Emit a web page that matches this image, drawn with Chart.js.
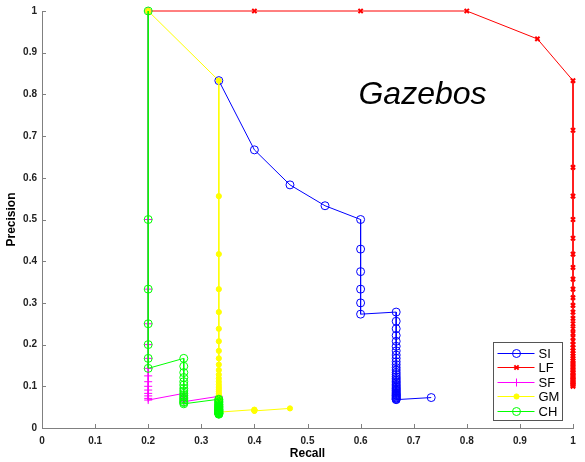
<!DOCTYPE html>
<html>
<head>
<meta charset="utf-8">
<title>Gazebos precision / recall</title>
<script src="https://cdn.jsdelivr.net/npm/chart.js"></script>
<style>
  body { margin: 0; background: #fff; }
  #wrap { width: 585px; height: 462px; }
</style>
</head>
<body>
<div id="wrap"><canvas id="prChart" width="585" height="462"></canvas></div>
<script>
// =================== Data ===================

const tickValues = [0, 0.1, 0.2, 0.3, 0.4, 0.5, 0.6, 0.7, 0.8, 0.9, 1];
const tickLabels = ['0', '0.1', '0.2', '0.3', '0.4', '0.5', '0.6', '0.7', '0.8', '0.9', '1'];
const seriesNames = ['SI', 'LF', 'SF', 'GM', 'CH'];

// SI
const siRecall = [0.333, 0.4, 0.467, 0.533, 0.6, 0.6, 0.6, 0.6, 0.6, 0.6,
  0.667, 0.667, 0.667, 0.667, 0.667, 0.667, 0.667, 0.667, 0.667, 0.667,
  0.667, 0.667, 0.667, 0.667, 0.667, 0.667, 0.667, 0.667, 0.667, 0.667,
  0.667, 0.667, 0.667, 0.667, 0.667, 0.667, 0.667, 0.667, 0.667, 0.667,
  0.667, 0.667, 0.667, 0.667, 0.667, 0.667, 0.667, 0.667,
  0.733];
const siPrecision = [0.833, 0.667, 0.583, 0.533, 0.5, 0.429, 0.375, 0.333, 0.3, 0.273,
  0.278, 0.256, 0.238, 0.222, 0.208, 0.196, 0.185, 0.175, 0.167, 0.159,
  0.152, 0.145, 0.139, 0.133, 0.128, 0.123, 0.119, 0.115, 0.111, 0.108,
  0.104, 0.101, 0.098, 0.095, 0.093, 0.090, 0.088, 0.085, 0.083, 0.081,
  0.079, 0.078, 0.076, 0.074, 0.072, 0.071, 0.069, 0.068,
  0.073];

// LF
const lfRecall = [0.2, 0.4, 0.6, 0.8, 0.933, 1,
  1, 1, 1, 1, 1, 1, 1, 1, 1, 1,
  1, 1, 1, 1, 1, 1, 1, 1, 1, 1,
  1, 1, 1, 1, 1, 1, 1, 1, 1, 1,
  1, 1, 1, 1, 1, 1, 1, 1, 1, 1,
  1, 1, 1, 1];
const lfPrecision = [1, 1, 1, 1, 0.933, 0.833,
  0.714, 0.625, 0.556, 0.5, 0.455, 0.417, 0.385, 0.357, 0.333, 0.3125,
  0.294, 0.278, 0.263, 0.25, 0.238, 0.227, 0.217, 0.208, 0.2, 0.192,
  0.185, 0.179, 0.172, 0.167, 0.161, 0.156, 0.152, 0.147, 0.143, 0.139,
  0.135, 0.132, 0.128, 0.125, 0.122, 0.119, 0.116, 0.114, 0.111, 0.109,
  0.106, 0.104, 0.102, 0.1];

// SF
const sfRecall = [0.2, 0.2, 0.2, 0.2, 0.2, 0.2, 0.2, 0.2, 0.2, 0.2, 0.2, 0.2, 0.2, 0.2, 0.2,
  0.267, 0.267, 0.267, 0.267, 0.267, 0.267,
  0.333, 0.333, 0.333, 0.333, 0.333, 0.333, 0.333, 0.333, 0.333, 0.333,
  0.333, 0.333, 0.333, 0.333, 0.333, 0.333, 0.333, 0.333, 0.333, 0.333,
  0.333, 0.333, 0.333, 0.333, 0.333, 0.333, 0.333, 0.333, 0.333];
const sfPrecision = [1, 0.5, 0.333, 0.25, 0.2, 0.167, 0.143, 0.125, 0.111, 0.1, 0.091, 0.083, 0.077, 0.071, 0.067,
  0.083, 0.078, 0.074, 0.070, 0.067, 0.063,
  0.076, 0.072, 0.069, 0.067, 0.064, 0.062, 0.060, 0.057, 0.056, 0.054,
  0.052, 0.051, 0.049, 0.048, 0.046, 0.045, 0.044, 0.043, 0.042, 0.041,
  0.040, 0.039, 0.038, 0.037, 0.036, 0.035, 0.035, 0.034, 0.033];

// GM
const gmRecall = [0.2, 0.333,
  0.333, 0.333, 0.333, 0.333, 0.333, 0.333, 0.333, 0.333, 0.333, 0.333,
  0.333, 0.333, 0.333, 0.333, 0.333, 0.333, 0.333, 0.333, 0.333, 0.333,
  0.333, 0.333, 0.333, 0.333, 0.333, 0.333, 0.333, 0.333, 0.333, 0.333,
  0.333, 0.333, 0.333, 0.333, 0.333, 0.333, 0.333, 0.333, 0.333, 0.333,
  0.333, 0.333,
  0.4, 0.4, 0.4, 0.4, 0.4,
  0.467];
const gmPrecision = [1, 0.833,
  0.556, 0.417, 0.333, 0.278, 0.238, 0.208, 0.185, 0.167, 0.152, 0.139,
  0.128, 0.119, 0.111, 0.104, 0.098, 0.093, 0.088, 0.083, 0.079, 0.076,
  0.072, 0.069, 0.067, 0.064, 0.062, 0.060, 0.057, 0.056, 0.054, 0.052,
  0.051, 0.049, 0.048, 0.046, 0.045, 0.044, 0.043, 0.042, 0.041, 0.040,
  0.039, 0.038,
  0.044, 0.043, 0.043, 0.042, 0.041,
  0.047];

// CH
const chRecall = [0.2, 0.2, 0.2, 0.2, 0.2, 0.2, 0.2,
  0.267, 0.267, 0.267, 0.267, 0.267, 0.267, 0.267, 0.267, 0.267, 0.267,
  0.267, 0.267, 0.267, 0.267, 0.267, 0.267,
  0.333, 0.333, 0.333, 0.333, 0.333, 0.333, 0.333, 0.333, 0.333, 0.333,
  0.333, 0.333, 0.333, 0.333, 0.333, 0.333, 0.333, 0.333, 0.333, 0.333,
  0.333, 0.333, 0.333, 0.333, 0.333, 0.333, 0.333];
const chPrecision = [1, 0.5, 0.333, 0.25, 0.2, 0.167, 0.143,
  0.167, 0.148, 0.133, 0.121, 0.111, 0.103, 0.095, 0.089, 0.083, 0.078,
  0.074, 0.070, 0.067, 0.063, 0.061, 0.058,
  0.069, 0.067, 0.064, 0.062, 0.060, 0.057, 0.056, 0.054, 0.052, 0.051,
  0.049, 0.048, 0.046, 0.045, 0.044, 0.043, 0.042, 0.041, 0.040, 0.039,
  0.038, 0.037, 0.036, 0.035, 0.035, 0.034, 0.033];

// =================== Helpers ===================

function toPoints(xs, ys) {
  return xs.map((x, i) => ({ x: x, y: ys[i] }));
}

// marker look per series (also used by the legend)
const styles = {
  SI: { color: '#0000ff', pointStyle: 'circle', radius: 4, width: 1, fill: 'rgba(0,0,0,0)' },
  LF: { color: '#ff0000', pointStyle: 'crossRot', radius: 3, width: 2, fill: '#ff0000' },
  SF: { color: '#ff00ff', pointStyle: 'cross', radius: 4, width: 1, fill: '#ff00ff' },
  GM: { color: '#ffff00', pointStyle: 'circle', radius: 2.6, width: 1, fill: '#ffff00' },
  CH: { color: '#00ff00', pointStyle: 'circle', radius: 4, width: 1, fill: 'rgba(0,0,0,0)' }
};

function makeDataset(name, xs, ys, order) {
  const s = styles[name];
  return {
    label: name,
    data: toPoints(xs, ys),
    showLine: true,
    borderColor: s.color,
    borderWidth: 1,
    backgroundColor: s.fill,
    pointStyle: s.pointStyle,
    pointRadius: s.radius,
    pointBorderColor: s.color,
    pointBackgroundColor: s.fill,
    pointBorderWidth: s.width,
    clip: false,
    order: order
  };
}

function tickText(value) {
  const i = tickValues.findIndex(v => Math.abs(v - value) < 1e-6);
  return i >= 0 ? tickLabels[i] : '';
}

// =================== Plugins ===================

// MATLAB-style inward tick marks
const inwardTicks = {
  id: 'inwardTicks',
  afterDraw(chart) {
    const { ctx, chartArea, scales } = chart;
    ctx.save();
    ctx.strokeStyle = '#808080';
    ctx.lineWidth = 1;
    ctx.beginPath();
    tickValues.forEach(v => {
      const px = Math.round(scales.x.getPixelForValue(v)) + 0.5;
      ctx.moveTo(px, chartArea.bottom);
      ctx.lineTo(px, chartArea.bottom - 4);
      const py = Math.round(scales.y.getPixelForValue(v)) + 0.5;
      ctx.moveTo(chartArea.left, py);
      ctx.lineTo(chartArea.left + 4, py);
    });
    ctx.stroke();
    ctx.restore();
  }
};

// big italic label inside the plot
const plotLabel = {
  id: 'plotLabel',
  afterDraw(chart) {
    const { ctx, scales } = chart;
    ctx.save();
    ctx.font = 'italic 32px "Liberation Sans", Arial, sans-serif';
    ctx.fillStyle = '#000';
    ctx.textBaseline = 'alphabetic';
    ctx.fillText('Gazebos', scales.x.getPixelForValue(0.596), scales.y.getPixelForValue(0.777));
    ctx.restore();
  }
};

// boxed legend at lower right of the plot
const boxLegend = {
  id: 'boxLegend',
  afterDraw(chart) {
    const { ctx, chartArea } = chart;
    const w = 69, h = 78;
    const x0 = Math.round(chartArea.right - 11 - w) + 0.5;
    const y0 = Math.round(chartArea.bottom - 8 - h) + 0.5;
    ctx.save();
    ctx.fillStyle = '#fff';
    ctx.fillRect(x0, y0, w, h);
    ctx.strokeStyle = '#555';
    ctx.lineWidth = 1;
    ctx.strokeRect(x0, y0, w, h);
    ctx.font = '13px "Liberation Sans", Arial, sans-serif';
    ctx.textBaseline = 'middle';
    seriesNames.forEach((name, i) => {
      const s = styles[name];
      const y = Math.round(y0 + 10 + i * 14.5) + 0.5;
      ctx.strokeStyle = s.color;
      ctx.lineWidth = 1;
      ctx.beginPath();
      ctx.moveTo(x0 + 4, y);
      ctx.lineTo(x0 + 41, y);
      ctx.stroke();
      if (Chart.helpers && Chart.helpers.drawPoint) {
        ctx.save();
        ctx.strokeStyle = s.color;
        ctx.fillStyle = s.fill;
        ctx.lineWidth = s.width;
        Chart.helpers.drawPoint(ctx, { pointStyle: s.pointStyle, radius: s.radius, borderWidth: s.width, rotation: 0 }, x0 + 23, y);
        ctx.restore();
      }
      ctx.fillStyle = '#000';
      ctx.fillText(name, x0 + 45, y + 0.5);
    });
    ctx.restore();
  }
};

// =================== Chart ===================

const tickFont = { family: '"Liberation Sans", Arial, sans-serif', size: 10, weight: 'bold' };
const titleFont = { family: '"Liberation Sans", Arial, sans-serif', size: 12, weight: 'bold' };

new Chart(document.getElementById('prChart'), {
  type: 'scatter',
  data: {
    datasets: [
      makeDataset('SI', siRecall, siPrecision, 5),
      makeDataset('LF', lfRecall, lfPrecision, 4),
      makeDataset('SF', sfRecall, sfPrecision, 3),
      makeDataset('GM', gmRecall, gmPrecision, 2),
      makeDataset('CH', chRecall, chPrecision, 1)
    ]
  },
  options: {
    responsive: false,
    animation: false,
    layout: { padding: { top: 11, right: 12, left: 0, bottom: 0 } },
    plugins: {
      legend: { display: false },
      tooltip: { enabled: false }
    },
    scales: {
      x: {
        type: 'linear',
        min: 0,
        max: 1,
        afterBuildTicks(scale) { scale.ticks = tickValues.map(v => ({ value: v })); },
        afterFit(scale) { scale.height = 34; },
        grid: { display: false, drawTicks: false },
        border: { display: true, color: '#808080', width: 1 },
        ticks: { font: tickFont, color: '#222', padding: 7, maxRotation: 0, autoSkip: false, callback: tickText },
        title: { display: true, text: 'Recall', font: titleFont, color: '#000', padding: { top: 0, bottom: 1 } }
      },
      y: {
        type: 'linear',
        min: 0,
        max: 1,
        afterBuildTicks(scale) { scale.ticks = tickValues.map(v => ({ value: v })); },
        afterFit(scale) { scale.width = 42; },
        grid: { display: false, drawTicks: false },
        border: { display: true, color: '#808080', width: 1 },
        ticks: { font: tickFont, color: '#222', padding: 5, autoSkip: false, callback: tickText },
        title: { display: true, text: 'Precision', font: titleFont, color: '#000', padding: { top: 4, bottom: 0 } }
      }
    }
  },
  plugins: [inwardTicks, plotLabel, boxLegend]
});
</script>
</body>
</html>
